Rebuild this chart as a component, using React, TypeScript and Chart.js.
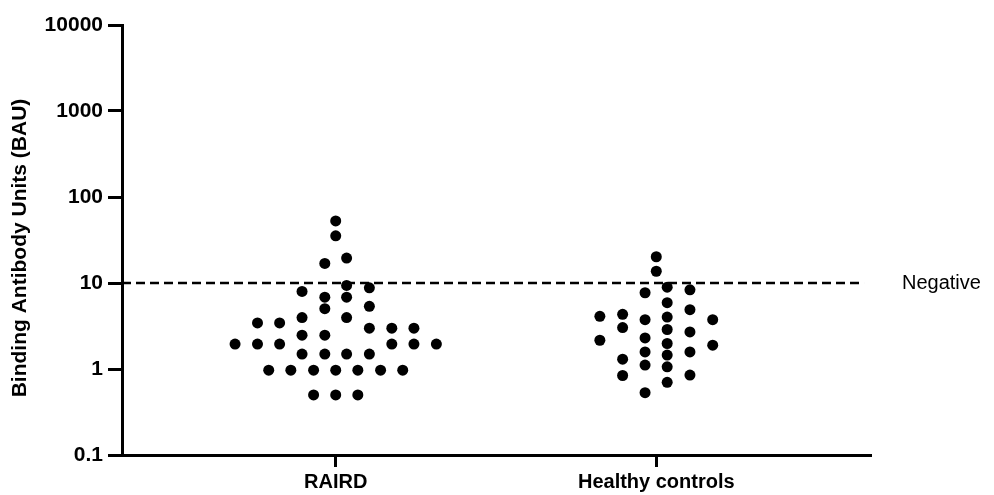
import React, { useEffect, useRef } from 'react';
import { Chart, registerables } from 'chart.js';

Chart.register(...registerables);

const CATEGORIES = ['RAIRD', 'Healthy controls'];
const Y_TICKS = [0.1, 1, 10, 100, 1000, 10000];
const Y_TITLE = 'Binding Antibody Units (BAU)';
const CUTOFF = 10;
const CUTOFF_LABEL = 'Negative';

const RAIRD_VALUES = [
  52.7, 35.4, 16.9, 19.5, 9.36, 8.8, 7.98, 6.85, 6.85, 5.03,
  5.35, 3.96, 3.43, 3.43, 3.96, 2.98, 2.98, 2.98, 2.47, 2.47,
  1.95, 1.95, 1.95, 1.95, 1.95, 1.95, 1.49, 1.49, 1.49, 1.49,
  0.97, 0.97, 0.97, 0.97, 0.97, 0.97, 0.97, 0.5, 0.5, 0.5,
];
const RAIRD_JITTER = [
  0, 0, -0.034, 0.034, 0.034, 0.105, -0.105, -0.034, 0.034, -0.034,
  0.105, 0.034, -0.244, -0.175, -0.105, 0.105, 0.175, 0.244, -0.105, -0.034,
  -0.314, -0.244, -0.175, 0.175, 0.244, 0.314, -0.105, -0.034, 0.034, 0.105,
  -0.209, -0.14, -0.069, 0, 0.069, 0.14, 0.209, -0.069, 0, 0.069,
];

const HC_VALUES = [
  20.2, 13.7, 7.7, 8.95, 8.34, 5.9, 4.9, 4.1, 4.32, 3.03,
  3.75, 4.02, 3.75, 2.88, 2.16, 2.3, 1.98, 2.7, 1.89, 1.58,
  1.45, 1.58, 1.3, 1.11, 1.06, 0.84, 0.85, 0.7, 0.53,
];
const HC_JITTER = [
  0, 0, -0.035, 0.034, 0.105, 0.034, 0.105, -0.176, -0.105, -0.105,
  -0.035, 0.034, 0.176, 0.034, -0.176, -0.035, 0.034, 0.105, 0.176, -0.035,
  0.034, 0.105, -0.105, -0.035, 0.034, -0.105, 0.105, 0.034, -0.035,
];

const FONT = '"Liberation Sans", Arial, Helvetica, sans-serif';

export default function App() {
  const ref = useRef<HTMLCanvasElement>(null);

  useEffect(() => {
    document.body.style.margin = '0';
    if (!ref.current) return;
    Chart.defaults.font.family = FONT;

    const toPoints = (vals: number[], jit: number[], idx: number) =>
      vals.map((v, i) => ({ x: idx + 1 + jit[i], y: v }));

    const extraText = {
      id: 'extraText',
      afterDatasetsDraw(chart: any) {
        const { ctx, scales, chartArea } = chart;
        const py = scales.y.getPixelForValue(CUTOFF);
        ctx.save();
        ctx.font = `20px ${FONT}`;
        ctx.fillStyle = '#000';
        ctx.textBaseline = 'middle';
        ctx.textAlign = 'left';
        ctx.fillText(CUTOFF_LABEL, chartArea.right + 32, py);
        ctx.restore();

        // y-axis title
        ctx.save();
        ctx.font = `bold 21px ${FONT}`;
        ctx.fillStyle = '#000';
        ctx.textBaseline = 'middle';
        ctx.textAlign = 'center';
        ctx.translate(20.6, (chartArea.top + chartArea.bottom) / 2 + 8);
        ctx.rotate(-Math.PI / 2);
        ctx.fillText(Y_TITLE, 0, 0);
        ctx.restore();
      },
    };

    const chart = new Chart(ref.current, {
      type: 'scatter',
      data: {
        datasets: [
          {
            type: 'line',
            data: [
              { x: 1 / 3, y: CUTOFF },
              { x: 2.648, y: CUTOFF },
            ],
            borderColor: '#000',
            borderWidth: 2.5,
            borderDash: [9, 5],
            pointRadius: 0,
            order: 2,
          } as any,
          {
            data: toPoints(RAIRD_VALUES, RAIRD_JITTER, 0),
            backgroundColor: '#000',
            borderWidth: 0,
            pointRadius: 5.5,
            order: 1,
          },
          {
            data: toPoints(HC_VALUES, HC_JITTER, 1),
            backgroundColor: '#000',
            borderWidth: 0,
            pointRadius: 5.5,
            order: 1,
          },
        ],
      },
      options: {
        animation: false,
        responsive: true,
        maintainAspectRatio: false,
        layout: { padding: { top: 25, right: 124, left: 0, bottom: 0 } },
        plugins: { legend: { display: false }, tooltip: { enabled: false } },
        scales: {
          x: {
            type: 'linear',
            min: 1 / 3,
            max: 8 / 3,
            afterBuildTicks: (s: any) => {
              s.ticks = [{ value: 1 }, { value: 2 }];
            },
            afterFit: (s: any) => {
              s.height = 40;
            },
            ticks: {
              callback: (v: any) => CATEGORIES[Math.round(Number(v)) - 1] ?? '',
              font: { size: 20, weight: 'bold' },
              color: '#000',
              padding: 3,
              autoSkip: false,
              maxRotation: 0,
            },
            grid: {
              drawOnChartArea: false,
              drawTicks: true,
              tickLength: 12,
              color: '#000',
              lineWidth: 3,
            },
            border: { display: true, color: '#000', width: 3 },
          },
          y: {
            type: 'logarithmic',
            min: 0.1,
            max: 10000,
            afterBuildTicks: (s: any) => {
              s.ticks = Y_TICKS.map((v) => ({ value: v }));
            },
            afterFit: (s: any) => {
              s.width = 122;
            },
            ticks: {
              callback: (v: any) => String(v),
              font: { size: 21, weight: 'bold' },
              color: '#000',
              padding: 5,
              autoSkip: false,
            },
            grid: {
              drawOnChartArea: false,
              drawTicks: true,
              tickLength: 14,
              color: '#000',
              lineWidth: 3,
            },
            border: { display: true, color: '#000', width: 3 },
          },
        },
      },
      plugins: [extraText],
    });

    return () => chart.destroy();
  }, []);

  return (
    <div style={{ position: 'absolute', left: 0, top: 0, width: 994, height: 495 }}>
      <canvas ref={ref} />
    </div>
  );
}
